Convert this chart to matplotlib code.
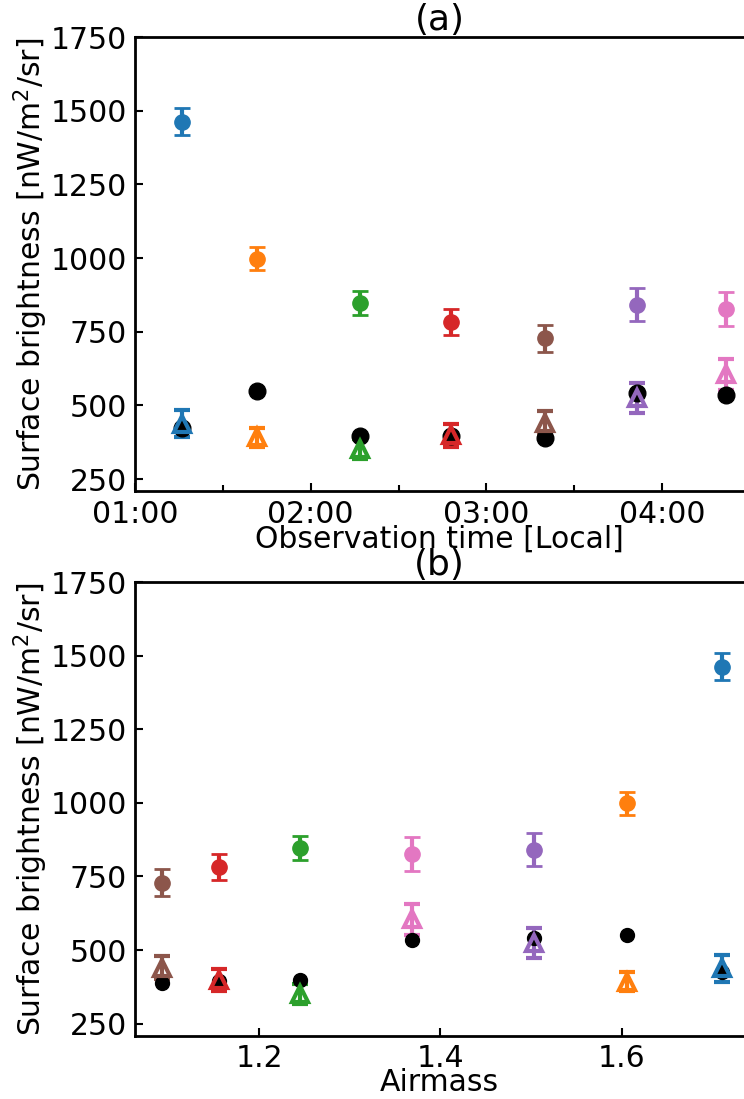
import datetime as dt
import matplotlib
matplotlib.use("Agg")
import matplotlib.pyplot as plt
import matplotlib.dates as mdates

# per-observation values, in time order
obs_time = ["01:16", "01:41:30", "02:17", "02:48", "03:20", "03:51:30", "04:22"]
airmass = [1.711, 1.606, 1.245, 1.156, 1.093, 1.503, 1.369]
colors = ["C0", "C1", "C2", "C3", "C5", "C4", "C6"]

# filled circles with errors
sb_total = [1462, 998, 847, 782, 728, 841, 826]
sb_total_err = [46, 38, 40, 44, 46, 56, 58]
# open triangles with errors
sb_resid = [438, 392, 352, 398, 440, 524, 605]
sb_resid_err = [46, 32, 34, 38, 40, 51, 53]
# black reference dots
sb_ref = [424, 550, 397, 396, 388, 541, 535]


def to_dt(s):
    parts = [int(p) for p in s.split(":")]
    while len(parts) < 3:
        parts.append(0)
    return dt.datetime(2020, 1, 1, parts[0], parts[1], parts[2])


times = [to_dt(s) for s in obs_time]

plt.rcParams["font.family"] = "DejaVu Sans"
plt.rcParams["font.size"] = 21.5

fig = plt.figure(figsize=(7.44, 10.99), dpi=100)
ax1 = fig.add_axes([0.1815, 0.5528, 0.8185, 0.4135])
ax2 = fig.add_axes([0.1815, 0.0573, 0.8185, 0.4131])


def draw(ax, xs, ref_size):
    for i in range(len(xs)):
        ax.errorbar(xs[i], sb_total[i], yerr=sb_total_err[i], fmt="o", color=colors[i],
                    ms=11, capsize=6, elinewidth=3, capthick=2)
        ax.errorbar(xs[i], sb_resid[i], yerr=sb_resid_err[i], fmt="^", color=colors[i],
                    mfc="none", mew=3, ms=12, capsize=6, elinewidth=3, capthick=3)
    for i in range(len(xs)):
        ax.plot(xs[i], sb_ref[i], "o", color="k", ms=ref_size)
    ax.set_ylim(208, 1750)
    ax.set_yticks([250, 500, 750, 1000, 1250, 1500, 1750])
    ax.set_ylabel("Surface brightness [nW/m$^2$/sr]", labelpad=0)
    ax.tick_params(direction="in", which="both", pad=6, width=1.5)
    ax.tick_params(which="major", length=6)
    ax.tick_params(which="minor", length=4)
    ax.spines["right"].set_visible(False)
    for s in ["left", "top", "bottom"]:
        ax.spines[s].set_linewidth(2)


draw(ax1, times, 12)
ax1.set_xlim(to_dt("01:00"), to_dt("04:28"))
ax1.xaxis.set_major_locator(mdates.HourLocator())
ax1.xaxis.set_minor_locator(mdates.MinuteLocator(byminute=[30]))
ax1.xaxis.set_major_formatter(mdates.DateFormatter("%H:%M"))
ax1.set_xlabel("Observation time [Local]", labelpad=-3)
ax1.set_title("(a)", pad=3)

draw(ax2, airmass, 10)
ax2.set_xlim(1.063, 1.735)
ax2.set_xticks([1.2, 1.4, 1.6])
ax2.set_xlabel("Airmass", labelpad=-4)
ax2.set_title("(b)", pad=3)

fig.savefig("out.png", dpi=100)
